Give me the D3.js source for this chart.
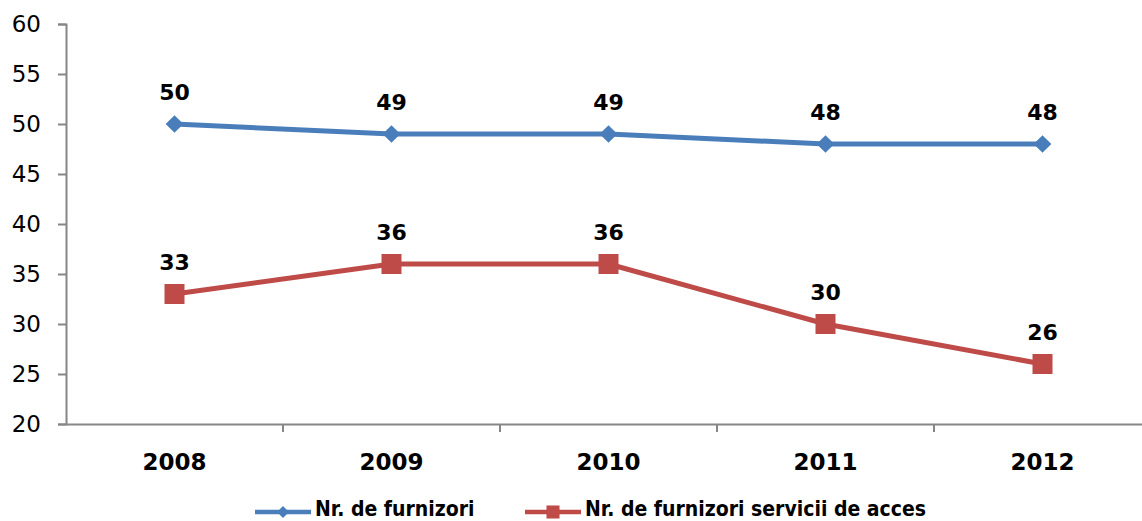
<!DOCTYPE html>
<html><head><meta charset="utf-8">
<script src="https://cdn.jsdelivr.net/npm/d3@7"></script>
<style>body{margin:0;background:#fff}svg{display:block}</style>
</head><body><svg id="c" width="1142" height="521"></svg>
<script>
const categories = ["2008","2009","2010","2011","2012"];
const seriesNames = ["Nr. de furnizori","Nr. de furnizori servicii de acces"];
const furnizori = [50,49,49,48,48];
const acces = [33,36,36,30,26];
const yTicks = [20,25,30,35,40,45,50,55,60];
const colors = ["#4A7EBB","#BE4B48"];

(function(){
const svg = d3.select("#c");
const mLeft = 66, mTop = 24, mBottom = 424, bandW = 217;
const x = d3.scaleBand().domain(categories).range([mLeft, mLeft + bandW*categories.length]);
const y = d3.scaleLinear().domain([20,60]).range([mBottom, mTop]);
const font = "'DejaVu Sans', Verdana, sans-serif";
const condFont = "'DejaVu Sans Condensed', 'DejaVu Sans', sans-serif";

const ya = svg.append("g").attr("transform",`translate(${mLeft},0)`)
  .call(d3.axisLeft(y).tickValues(yTicks).tickSize(8).tickPadding(10).tickFormat(d3.format("d")));
ya.select(".domain").attr("stroke","#868686").attr("stroke-width",2);
ya.selectAll(".tick line").attr("stroke","#868686").attr("stroke-width",2);
ya.selectAll(".tick text").attr("font-family",font).attr("font-size",23).attr("fill","#000").attr("dx",-7);

const xa = svg.append("g").attr("transform",`translate(0,${mBottom})`)
  .call(d3.axisBottom(x).tickSize(0).tickPadding(30));
xa.select(".domain").attr("stroke","#868686").attr("stroke-width",2);
xa.selectAll(".tick text").attr("font-family",font).attr("font-size",23).attr("font-weight","bold").attr("fill","#000");
xa.selectAll(".btick").data(categories.slice(1)).enter().append("line")
  .attr("x1",d=>x(d)).attr("x2",d=>x(d)).attr("y1",0).attr("y2",8)
  .attr("stroke","#868686").attr("stroke-width",2);

const cx = d => x(d) + x.bandwidth()/2;
const series = [furnizori, acces];
const line = d3.line().x((d,i)=>cx(categories[i])).y(d=>y(d));

series.forEach((vals, si) => {
  const g = svg.append("g");
  g.append("path").datum(vals).attr("d", line).attr("fill","none")
    .attr("stroke", colors[si]).attr("stroke-width",5).attr("stroke-linejoin","round");
  const sym = si === 0 ? d3.symbol().type(d3.symbolDiamond2).size(200) : d3.symbol().type(d3.symbolSquare).size(400);
  g.selectAll(".m").data(vals).enter().append("path")
    .attr("d", sym).attr("fill", colors[si])
    .attr("transform",(d,i)=>`translate(${cx(categories[i])},${y(d)})`);
  g.selectAll(".lbl").data(vals).enter().append("text")
    .attr("x",(d,i)=>cx(categories[i])).attr("y",d=>y(d)-24)
    .attr("text-anchor","middle").attr("font-family",font).attr("font-size",22).attr("font-weight","bold")
    .text(d=>d);
});

const legX = [255, 525];
seriesNames.forEach((n, si) => {
  const g = svg.append("g").attr("transform",`translate(${legX[si]},512)`);
  g.append("line").attr("x1",0).attr("x2",56).attr("y1",0).attr("y2",0)
    .attr("stroke",colors[si]).attr("stroke-width",4.5);
  const sym = si === 0 ? d3.symbol().type(d3.symbolDiamond2).size(90) : d3.symbol().type(d3.symbolSquare).size(170);
  g.append("path").attr("d",sym).attr("fill",colors[si]).attr("transform","translate(28,0)");
  g.append("text").attr("x",60).attr("y",4).attr("font-family",condFont).attr("font-size",21)
    .attr("font-weight","bold").text(n);
});
})();
</script></body></html>
